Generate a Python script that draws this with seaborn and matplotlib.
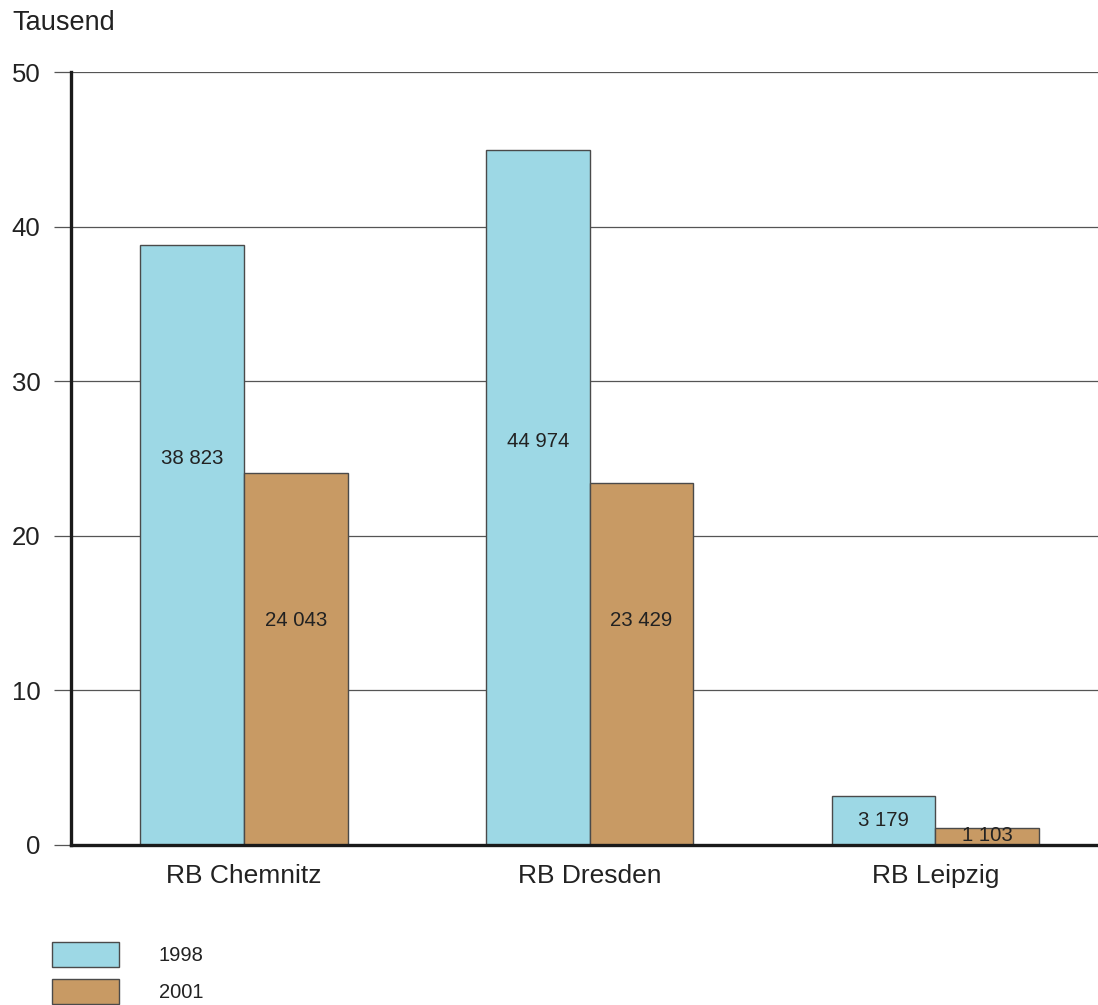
import matplotlib
matplotlib.use("Agg")
import matplotlib.pyplot as plt
import seaborn as sns
import pandas as pd

regions = ["RB Chemnitz", "RB Dresden", "RB Leipzig"]
years = ["1998", "2001"]
values_1998 = [38.823, 44.974, 3.179]
values_2001 = [24.043, 23.429, 1.103]
labels_1998 = ["38 823", "44 974", "3 179"]
labels_2001 = ["24 043", "23 429", "1 103"]
label_y_1998 = [25.0, 26.1, 1.6]
label_y_2001 = [14.5, 14.5, 0.6]
yticks = [0, 10, 20, 30, 40, 50]

colors = ["#9DD8E5", "#C89A64"]

df = pd.DataFrame({
    "region": regions * 2,
    "year": [years[0]] * 3 + [years[1]] * 3,
    "value": values_1998 + values_2001,
})

sns.set_theme(style="white")
plt.rcParams["font.family"] = ["Liberation Sans", "DejaVu Sans"]

fig = plt.figure(figsize=(10.98, 10.05), dpi=100)
ax = fig.add_axes([71/1098, 1 - 845/1005, 1 - 71/1098, (845 - 72)/1005])

sns.barplot(data=df, x="region", y="value", hue="year", palette=colors,
            saturation=1, width=0.6, edgecolor="#4a4a4a", linewidth=1.0, ax=ax,
            errorbar=None, legend=True, zorder=3)

ax.set_ylim(0, 50)
ax.set_xlim(-0.5, 2.47)
ax.set_yticks(yticks)
ax.set_yticklabels([str(t) for t in yticks], fontsize=18.5, color="#222222")
ax.yaxis.grid(True, color="#555555", linewidth=0.9, zorder=0)
ax.set_axisbelow(True)
ax.tick_params(axis="y", length=12, width=0.9, color="#555555", pad=10, left=True)
ax.tick_params(axis="x", length=0, pad=14, labelsize=19, labelcolor="#222222")
ax.set_xlabel("")
ax.set_ylabel("")

for side in ["top", "right"]:
    ax.spines[side].set_visible(False)
for side in ["left", "bottom"]:
    ax.spines[side].set_color("#1a1a1a")
    ax.spines[side].set_linewidth(2.4)
    ax.spines[side].set_zorder(5)

# value labels
offset = 0.15
for i in range(len(regions)):
    ax.text(i - offset, label_y_1998[i], labels_1998[i], ha="center", va="center",
            fontsize=14.7, color="#222222", zorder=6)
    ax.text(i + offset, label_y_2001[i], labels_2001[i], ha="center", va="center",
            fontsize=14.7, color="#222222", zorder=6)

fig.text(12/1098, 1 - 23/1005, "Tausend", fontsize=19.5, color="#222222",
         ha="left", va="center")

handles, lbls = ax.get_legend_handles_labels()
ax.get_legend().remove()
leg = fig.legend(handles, lbls, loc="lower left", bbox_to_anchor=(44/1098, -0.007),
                 frameon=False, fontsize=14.5, handlelength=3.3, handleheight=1.5,
                 handletextpad=2.0, labelspacing=0.62, borderaxespad=0)
for t in leg.get_texts():
    t.set_color("#222222")

fig.savefig("out.png", dpi=100)
